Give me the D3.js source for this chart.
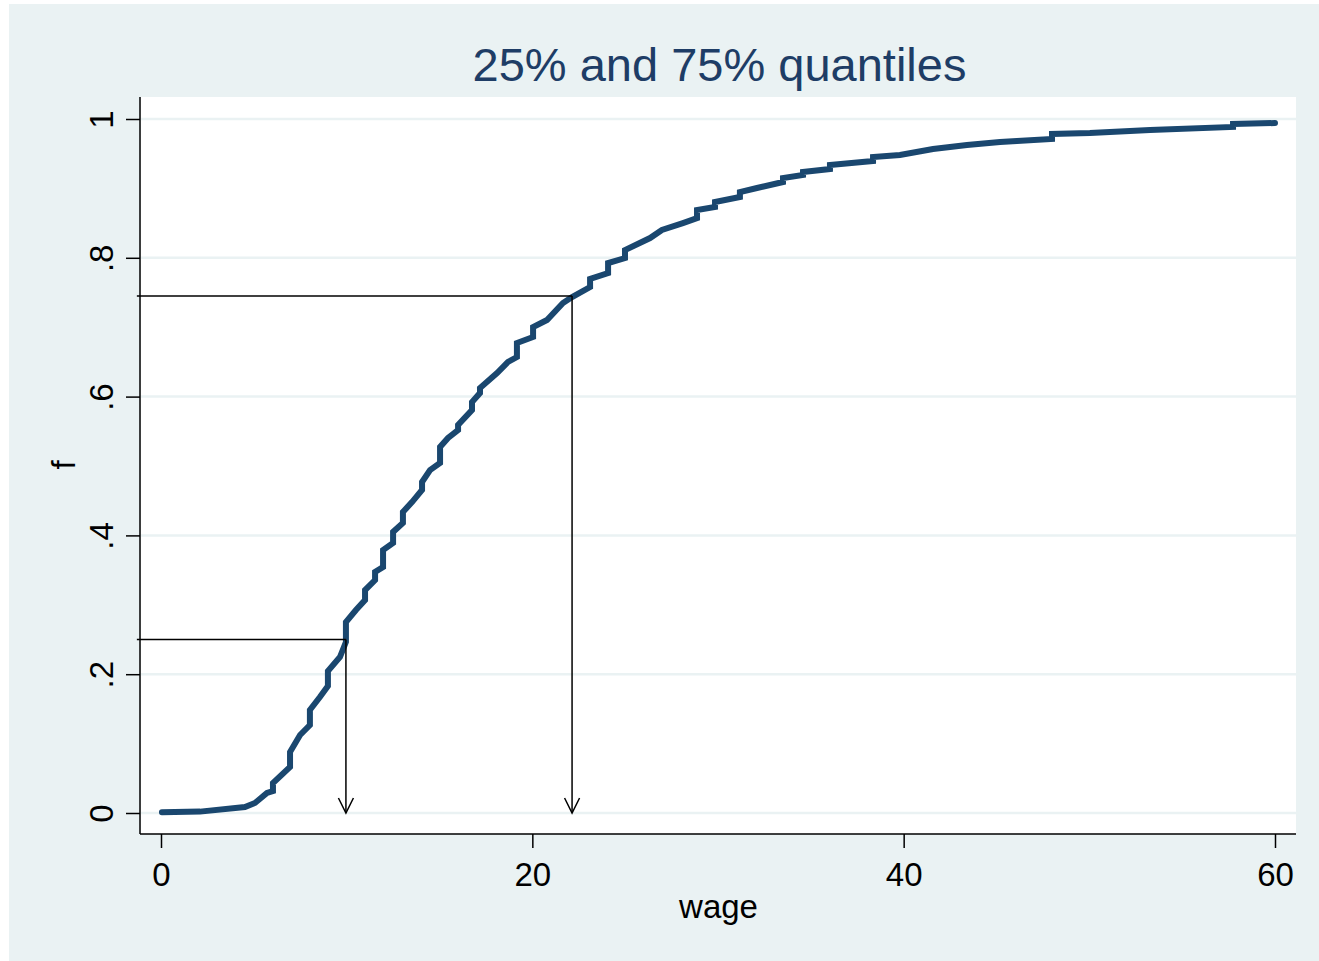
<!DOCTYPE html>
<html>
<head>
<meta charset="utf-8">
<script src="https://cdn.jsdelivr.net/npm/d3@7"></script>
<style>
  html, body { margin: 0; padding: 0; background: #ffffff; }
  svg { display: block; }
  text { font-family: "Liberation Sans", Arial, sans-serif; }
</style>
</head>
<body>
<svg id="chart" width="1319" height="961"></svg>
<script>
// ---- data ----
const chartTitle = "25% and 75% quantiles";
const xLabel = "wage";
const yLabel = "f";
const xTicks = [0, 20, 40, 60];
const yTicks = [0, 0.2, 0.4, 0.6, 0.8, 1];
const yTickLabels = ["0", ".2", ".4", ".6", ".8", "1"];

// empirical CDF of wage: [wage, f]; repeated wage = vertical jump
const wage = [0.05, 2.1, 4.52, 5.06, 5.71, 6.03, 6.03, 6.95, 6.95, 7.49, 8.02, 8.02, 8.56,
  8.99, 8.99, 9.64, 9.96, 9.96, 10.50, 10.99, 10.99, 11.53, 11.53, 11.96, 11.96, 12.50, 12.50,
  13.03, 13.03, 13.52, 14.06, 14.06, 14.49, 15.03, 15.03, 15.46, 16.0, 16.0, 16.75, 16.75,
  17.18, 17.18, 18.10, 18.69, 19.17, 19.17, 20.04, 20.04, 20.79, 21.65, 22.14, 23.11, 23.11,
  24.08, 24.08, 24.99, 24.99, 26.34, 26.98, 28.11, 28.87, 28.87, 29.84, 29.84, 31.18, 31.18,
  32.10, 33.50, 33.50, 34.58, 34.58, 36.03, 36.03, 38.35, 38.35, 39.80, 41.58, 43.41, 45.19,
  46.10, 47.99, 47.99, 50.03, 53.27, 57.74, 57.74, 60.0];
const f = [0.001, 0.002, 0.0086, 0.0144, 0.0288, 0.0317, 0.0432, 0.0663, 0.0879, 0.1124, 0.1268, 0.1484, 0.1671,
  0.183, 0.2046, 0.2248, 0.2464, 0.2752, 0.2925, 0.3069, 0.3213, 0.3357, 0.3473, 0.3545, 0.379, 0.389, 0.405,
  0.418, 0.4337, 0.448, 0.4654, 0.477, 0.4942, 0.5043, 0.5274, 0.5403, 0.5519, 0.5591, 0.5807, 0.5922,
  0.6052, 0.6124, 0.634, 0.6499, 0.657, 0.6772, 0.6859, 0.7003, 0.7104, 0.7349, 0.7435, 0.7579, 0.7695,
  0.7781, 0.7925, 0.7997, 0.8112, 0.8285, 0.8401, 0.8501, 0.8573, 0.8689, 0.8732, 0.8804, 0.8876, 0.8948,
  0.9006, 0.9092, 0.915, 0.9193, 0.9236, 0.928, 0.9337, 0.9395, 0.9452, 0.9481, 0.9568, 0.9625, 0.9669,
  0.9683, 0.9712, 0.9784, 0.9798, 0.9841, 0.9885, 0.9928, 0.9942];

// quantile guide lines
const quantileF = [0.25, 0.745];
const quantileWage = [9.96, 22.14];
const guideStartWage = -1.3;

// ---- layout ----
const svg = d3.select("#chart");
const W = 1319, H = 961;
const plot = { left: 141, right: 1296, top: 97, bottom: 834 };

const x = d3.scaleLinear().domain([0, 60]).range([161, 1275]);
const y = d3.scaleLinear().domain([0, 1]).range([813, 119]);

// outer background
svg.append("rect").attr("x", 9).attr("y", 4).attr("width", W - 9).attr("height", H - 4)
  .attr("fill", "#EAF2F3");
// plot region
svg.append("rect").attr("x", plot.left).attr("y", plot.top)
  .attr("width", plot.right - plot.left).attr("height", plot.bottom - plot.top)
  .attr("fill", "#ffffff");

// gridlines
svg.append("g").selectAll("line").data(yTicks).join("line")
  .attr("x1", plot.left).attr("x2", plot.right)
  .attr("y1", d => y(d)).attr("y2", d => y(d))
  .attr("stroke", "#EAF2F3").attr("stroke-width", 2.5);

// title
svg.append("text").attr("x", (plot.left + plot.right) / 2 + 1).attr("y", 81)
  .attr("text-anchor", "middle").attr("font-size", 47).attr("fill", "#1E3D66")
  .text(chartTitle);

// x axis
const xAxis = d3.axisBottom(x).tickValues(xTicks).tickSize(14).tickPadding(15)
  .tickFormat(d3.format("d"));
const gx = svg.append("g").attr("transform", `translate(0,${plot.bottom})`).call(xAxis);
gx.select(".domain").remove();
gx.append("line").attr("x1", plot.left - 1).attr("x2", plot.right).attr("y1", 0).attr("y2", 0)
  .attr("stroke", "#000").attr("stroke-width", 1.5);
gx.selectAll(".tick line").attr("stroke", "#000").attr("stroke-width", 1.5);
gx.selectAll(".tick text").attr("font-size", 33).attr("fill", "#000")
  .attr("font-family", "Liberation Sans, Arial, sans-serif");

// y axis
const yAxis = d3.axisLeft(y).tickValues(yTicks).tickSize(14)
  .tickFormat((d, i) => yTickLabels[i]);
const gy = svg.append("g").attr("transform", `translate(${plot.left - 1},0)`).call(yAxis);
gy.select(".domain").remove();
gy.append("line").attr("x1", 0).attr("x2", 0).attr("y1", plot.top).attr("y2", plot.bottom)
  .attr("stroke", "#000").attr("stroke-width", 1.5);
gy.selectAll(".tick line").attr("stroke", "#000").attr("stroke-width", 1.5);
gy.selectAll(".tick text")
  .attr("font-size", 33).attr("fill", "#000")
  .attr("font-family", "Liberation Sans, Arial, sans-serif")
  .attr("x", null).attr("dy", null)
  .attr("text-anchor", "middle")
  .attr("transform", "translate(-27,0) rotate(-90)");

// axis titles
svg.append("text").attr("x", (plot.left + plot.right) / 2).attr("y", 918)
  .attr("text-anchor", "middle").attr("font-size", 33).attr("fill", "#000").text(xLabel);
svg.append("text").attr("transform", `translate(75,465) rotate(-90)`)
  .attr("text-anchor", "middle").attr("font-size", 33).attr("fill", "#000").text(yLabel);

// ECDF curve
const pts = wage.map((w, i) => [w, f[i]]);
const line = d3.line().x(d => x(d[0])).y(d => y(d[1]));
svg.append("path").datum(pts).attr("d", line)
  .attr("fill", "none").attr("stroke", "#1A476F").attr("stroke-width", 6)
  .attr("stroke-linejoin", "miter").attr("stroke-linecap", "round");

// quantile guides with arrows
const g = svg.append("g").attr("stroke", "#000").attr("stroke-width", 1.5).attr("fill", "none");
quantileF.forEach((q, i) => {
  const qx = x(quantileWage[i]), qy = y(q), y0 = y(0);
  g.append("line").attr("x1", x(guideStartWage)).attr("x2", qx).attr("y1", qy).attr("y2", qy);
  g.append("line").attr("x1", qx).attr("x2", qx).attr("y1", qy).attr("y2", y0);
  g.append("path").attr("d", `M${qx - 7.5},${y0 - 15} L${qx},${y0} L${qx + 7.5},${y0 - 15}`);
});
</script>
</body>
</html>
